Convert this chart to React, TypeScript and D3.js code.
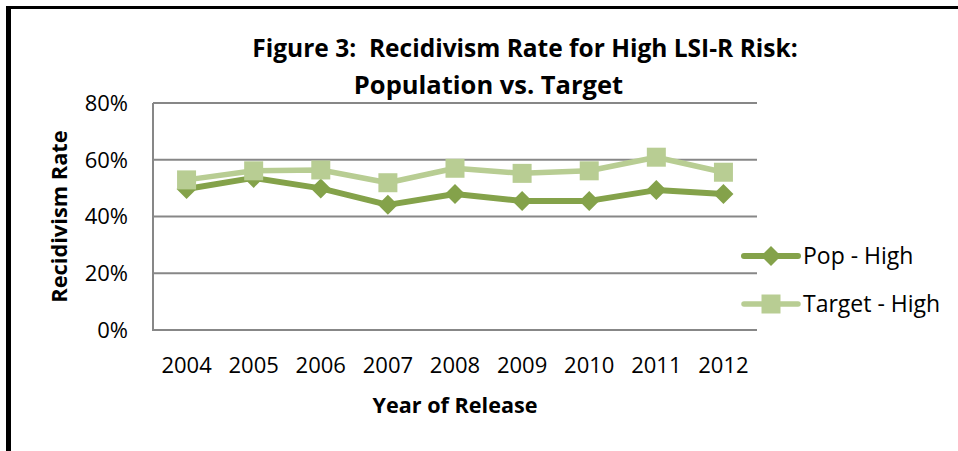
import React from "react";
import * as d3 from "d3";

const years = ["2004", "2005", "2006", "2007", "2008", "2009", "2010", "2011", "2012"];
const popHigh = [0.497, 0.536, 0.499, 0.441, 0.479, 0.455, 0.455, 0.493, 0.479];
const targetHigh = [0.529, 0.561, 0.564, 0.519, 0.57, 0.552, 0.561, 0.609, 0.556];
const yTicks = [0, 0.2, 0.4, 0.6, 0.8];
const seriesNames = ["Pop - High", "Target - High"];

const W = 958;
const H = 451;
const FONT = "'Open Sans', sans-serif";
const POP_COLOR = "#84A24A";
const TARGET_COLOR = "#B8CD93";
const GRID = "#878787";

export default function App() {
  const x = d3.scalePoint<string>().domain(years).range([153, 757]).padding(0.5);
  const y = d3.scaleLinear().domain([0, 0.8]).range([330, 103]);
  const line = d3
    .line<number>()
    .x((_, i) => x(years[i]) as number)
    .y((d) => y(d));
  const fmt = d3.format(".0%");
  const sq = d3.symbol().type(d3.symbolSquare).size(19 * 19)();
  const dia = (r: number) => `M0,${-r}L${r},0L0,${r}L${-r},0Z`;

  return (
    <svg
      width={W}
      height={H}
      style={{ position: "absolute", left: 0, top: 0, background: "#fff" }}
      fontFamily={FONT}
    >
      <rect x={0} y={0} width={W} height={H} fill="#fff" />
      {/* border */}
      <rect x={6} y={6} width={W - 6} height={3} fill="#000" />
      <rect x={6} y={6} width={5} height={H - 6} fill="#000" />

      {/* title */}
      <text x={525} y={56.5} textAnchor="middle" fontWeight="bold" fontSize={24.5} fill="#000">
        Figure 3:{"\u00a0\u00a0"}Recidivism Rate for High LSI-R Risk:
      </text>
      <text x={488.5} y={94} textAnchor="middle" fontWeight="bold" fontSize={25.5} fill="#000">
        Population vs. Target
      </text>

      {/* gridlines */}
      {yTicks.map((t) => (
        <line key={t} x1={153} x2={757} y1={y(t)} y2={y(t)} stroke={GRID} strokeWidth={2} />
      ))}
      <line x1={153} x2={153} y1={y(0.8)} y2={y(0) + 1} stroke={GRID} strokeWidth={2} />

      {/* y tick labels */}
      {yTicks.map((t) => (
        <text key={t} x={128} y={y(t)} dy="0.36em" textAnchor="end" fontSize={22} fill="#000">
          {fmt(t)}
        </text>
      ))}

      {/* x tick labels */}
      {years.map((yr) => (
        <text key={yr} x={x(yr)} y={373.3} textAnchor="middle" fontSize={22} fill="#000">
          {yr}
        </text>
      ))}

      {/* axis titles */}
      <text
        transform={`translate(67,216.5) rotate(-90)`}
        textAnchor="middle"
        fontWeight="bold"
        fontSize={21.8}
        fill="#000"
      >
        Recidivism Rate
      </text>
      <text x={455} y={412.7} textAnchor="middle" fontWeight="bold" fontSize={21.6} fill="#000">
        Year of Release
      </text>

      {/* series lines */}
      <path d={line(popHigh) as string} fill="none" stroke={POP_COLOR} strokeWidth={6} strokeLinejoin="round" />
      {popHigh.map((v, i) => (
        <path key={i} d={dia(10)} transform={`translate(${x(years[i])},${y(v)})`} fill={POP_COLOR} />
      ))}
      <path d={line(targetHigh) as string} fill="none" stroke={TARGET_COLOR} strokeWidth={5.5} strokeLinejoin="round" />
      {targetHigh.map((v, i) => (
        <path key={i} d={sq as string} transform={`translate(${x(years[i])},${y(v)})`} fill={TARGET_COLOR} />
      ))}

      {/* legend */}
      <line x1={744} x2={798} y1={256} y2={256} stroke={POP_COLOR} strokeWidth={6} strokeLinecap="round" />
      <path d={dia(10)} transform="translate(771,256)" fill={POP_COLOR} />
      <text x={803} y={256} dy="0.36em" fontSize={23} fill="#000">
        {seriesNames[0]}
      </text>
      <line x1={744} x2={798} y1={304} y2={304} stroke={TARGET_COLOR} strokeWidth={5.5} strokeLinecap="round" />
      <path d={sq as string} transform="translate(771,304)" fill={TARGET_COLOR} />
      <text x={803} y={304} dy="0.36em" fontSize={23} fill="#000">
        {seriesNames[1]}
      </text>
    </svg>
  );
}
